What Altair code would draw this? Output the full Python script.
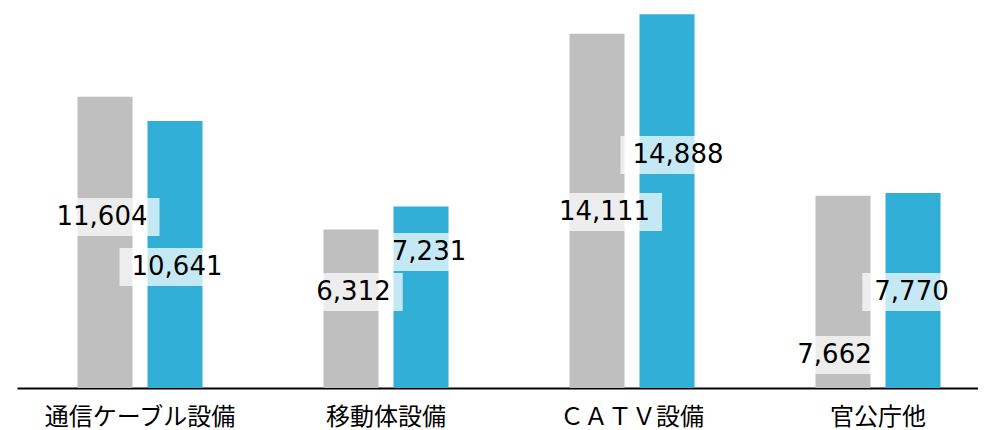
import altair as alt
import pandas as pd

categories = ["通信ケーブル設備", "移動体設備", "ＣＡＴＶ設備", "官公庁他"]
series_names = ["前年度", "当年度"]
values_prev = [11604, 6312, 14111, 7662]
values_curr = [10641, 7231, 14888, 7770]
# manual label anchor heights (data units) and horizontal nudges (px)
label_pos_prev = [6813, 3825, 7012, 1315]
label_pos_curr = [4821, 5418, 9283, 3825]
label_dx_prev = [-3, 2.5, 7.5, -8.5]
label_dx_curr = [2, 8, 11, -1.5]
colors = ["#BFBFBF", "#31AFD7"]

FS = 26

rows = []
for i, c in enumerate(categories):
    for s, vals, lp, dxs in [
        (series_names[0], values_prev, label_pos_prev, label_dx_prev),
        (series_names[1], values_curr, label_pos_curr, label_dx_curr),
    ]:
        rows.append(dict(cat=c, series=s, value=vals[i], lpos=lp[i], dx=dxs[i],
                         label=f"{vals[i]:,}", key=f"{i}-{s}"))
df = pd.DataFrame(rows)

H = 380
W = 961
YMAX = H / 0.0251

x = alt.X("cat:N", sort=categories,
          scale=alt.Scale(range=[0, 984], paddingInner=0, paddingOuter=0),
          axis=alt.Axis(title=None, labelAngle=0, ticks=False, domainColor="#000000",
                        domainWidth=2, labelFont="Noto Sans CJK JP", labelFontSize=24,
                        labelColor="#000000", labelPadding=17, labelBaseline="top",
                        grid=False, labelLimit=400))
xo = alt.XOffset("series:N", sort=series_names,
                 scale=alt.Scale(paddingInner=0.214, paddingOuter=0.864))
yscale = alt.Scale(domain=[0, YMAX], nice=False, zero=True)

base = alt.Chart(df)
bars = base.mark_bar().encode(
    x=x, xOffset=xo,
    y=alt.Y("value:Q", scale=yscale, axis=None),
    color=alt.Color("series:N", sort=series_names,
                    scale=alt.Scale(domain=series_names, range=colors), legend=None),
)

layers = [bars]
for _, r in df.iterrows():
    d = r["dx"]
    txt_w = (sum(ch.isdigit() for ch in r["label"]) * 0.636 + 0.318) * FS
    hw = txt_w / 2 + 12
    path = f"M{d-hw:.1f},-19H{d+hw:.1f}V19H{d-hw:.1f}Z"
    sub = base.transform_filter(alt.datum.key == r["key"])
    box = sub.mark_point(shape=path, size=4, filled=True, fill="#FFFFFF",
                         opacity=0.72, strokeWidth=0).encode(
        x=x, xOffset=xo, y=alt.Y("lpos:Q", scale=yscale, axis=None))
    txt = sub.mark_text(dx=d, font="DejaVu Sans", fontSize=FS, color="#000000",
                        baseline="middle", align="center").encode(
        x=x, xOffset=xo, y=alt.Y("lpos:Q", scale=yscale, axis=None), text="label:N")
    layers += [box, txt]

chart = alt.layer(*layers).properties(
    width=W, height=H,
    padding={"left": 9, "right": 0, "top": 0, "bottom": 42},
    autosize=alt.AutoSizeParams(type="none"),
).configure_view(stroke=None)

chart.save("out.html", embed_options={"renderer": "svg", "actions": False})
